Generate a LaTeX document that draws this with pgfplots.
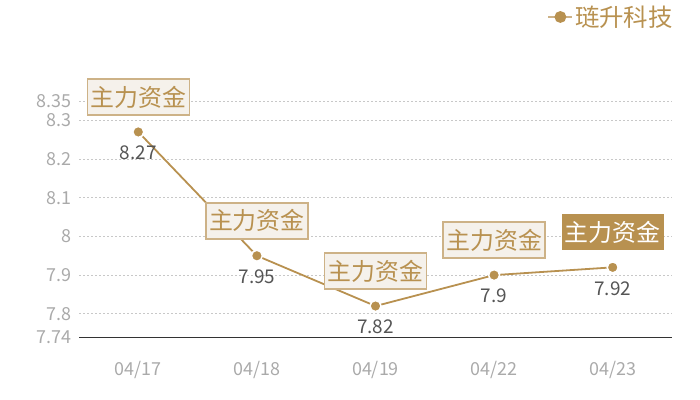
\documentclass[border=0pt]{standalone}
\usepackage{pgfplots}
\pgfplotsset{compat=1.18}
\usepackage{fontspec}
\setmainfont{Noto Sans CJK SC}
\definecolor{gold}{RGB}{184,145,80}
\definecolor{goldlight}{RGB}{205,178,135}
\definecolor{boxfill}{RGB}{245,241,235}
\definecolor{tickgray}{RGB}{170,170,170}
\definecolor{valgray}{RGB}{85,85,85}
\definecolor{gridgray}{RGB}{200,200,200}
\begin{document}
\begin{tikzpicture}
\path[use as bounding box] (-79bp,-63bp) rectangle (621bp,337bp);
\begin{axis}[
  scale only axis, width=593bp, height=236bp,
  xmin=-0.5, xmax=4.5, ymin=7.74, ymax=8.35,
  clip=false,
  /pgf/number format/assume math mode=true,
  xtick={0,1,2,3,4},
  xticklabels={04/17,04/18,04/19,04/22,04/23},
  ytick={7.74,7.8,7.9,8,8.1,8.2,8.3,8.35},
  yticklabels={7.74,7.8,7.9,8,8.1,8.2,8.3,8.35},
  major tick length=0pt,
  ymajorgrids, grid style={gridgray, line width=0.8bp, dash pattern=on 2bp off 2bp},
  separate axis lines,
  axis x line*=bottom, axis y line*=left,
  x axis line style={draw=black!80, line width=1bp, -},
  y axis line style={draw=none},
  ticklabel style={font=\fontsize{18}{18}\selectfont, text=tickgray},
  xticklabel style={yshift=-21bp},
  yticklabel style={xshift=-4bp},
  legend style={at={(1.005,1.356)}, anchor=east, draw=none, fill=none,
    font=\fontsize{24.5}{24.5}\selectfont, text=gold, inner sep=0pt},
  legend image code/.code={\draw[goldlight, line width=1.5bp] (0bp,0bp) -- (24bp,0bp); \fill[gold] (12bp,0bp) circle (5bp);},
]
\addplot[gold, line width=1.8bp, mark=*, mark size=5.5bp,
  mark options={fill=gold, draw=white, line width=1.5bp},
  nodes near coords,
  every node near coord/.append style={anchor=center, yshift=-21bp, font=\fontsize{19}{19}\selectfont, text=valgray}]
  coordinates {(0,8.27) (1,7.95) (2,7.82) (3,7.9) (4,7.92)};
\addlegendentry{琏升科技}
\addplot[draw=none, mark=none, forget plot,
  nodes near coords={主力资金},
  every node near coord/.append style={anchor=center, yshift=35bp, font=\fontsize{24}{24}\selectfont, text=gold, draw=goldlight, fill=boxfill, line width=1.5bp, minimum width=102bp, minimum height=36bp, inner sep=0pt}]
  coordinates {(0,8.27) (1,7.95) (2,7.82) (3,7.9)};
\addplot[draw=none, mark=none, forget plot,
  nodes near coords={主力资金},
  every node near coord/.append style={anchor=center, yshift=35bp, font=\fontsize{24}{24}\selectfont, text=white, fill=gold, minimum width=102bp, minimum height=36bp, inner sep=0pt}]
  coordinates {(4,7.92)};
\end{axis}
\end{tikzpicture}
\end{document}
